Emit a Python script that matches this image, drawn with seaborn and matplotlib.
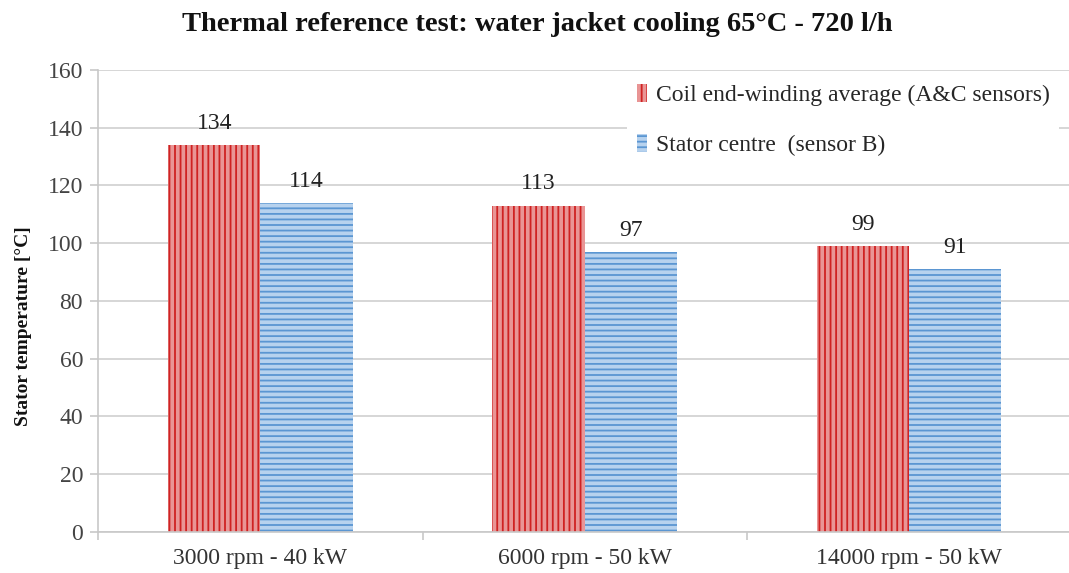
"""
Thermal reference test - bar chart of stator temperatures.
"""

import matplotlib
matplotlib.use("Agg")
import matplotlib.pyplot as plt
import matplotlib.patches as mpatches
import seaborn as sns
import pandas as pd

# Data
operating_points = ["3000 rpm - 40 kW", "6000 rpm - 50 kW", "14000 rpm - 50 kW"]
coil_endwinding = [134, 113, 99]
stator_centre = [114, 97, 91]
series_names = ["Coil end-winding average (A&C sensors)", "Stator centre  (sensor B)"]


def build_frame():
    rows = []
    for op, c, s in zip(operating_points, coil_endwinding, stator_centre):
        rows.append({"op": op, "series": series_names[0], "temp": c})
        rows.append({"op": op, "series": series_names[1], "temp": s})
    return pd.DataFrame(rows)


def plot():
    sns.set_theme(style="white")
    plt.rcParams["font.family"] = ["Liberation Serif", "DejaVu Serif"]
    plt.rcParams["hatch.linewidth"] = 1.3

    df = build_frame()

    fig = plt.figure(figsize=(10.69, 5.73), dpi=100)
    ax = fig.add_axes([0.092, 0.072, 0.91, 0.806])

    face = {series_names[0]: "#e99595", series_names[1]: "#b7d2ee"}
    edge = {series_names[0]: "#cf2222", series_names[1]: "#5b96d2"}
    hatch = {series_names[0]: "|||", series_names[1]: "---"}

    sns.barplot(data=df, x="op", y="temp", hue="series", hue_order=series_names,
                order=operating_points, palette=face, width=0.57, saturation=1,
                ax=ax, legend=False)

    # hatch each bar by series
    for cont, name in zip(ax.containers, series_names):
        for bar in cont:
            bar.set_hatch(hatch[name])
            bar.set_edgecolor(edge[name])
            bar.set_linewidth(0)
        ax.bar_label(cont, labels=[f"{v:.0f}" for v in cont.datavalues],
                     padding=8, fontsize=17, color="#222222")

    ax.set_ylim(0, 160)
    ax.set_yticks(range(0, 161, 20))
    ax.set_xlim(-0.5, 2.5)
    ax.yaxis.grid(True, color="#d0d0d0", linewidth=1.2)
    ax.set_axisbelow(True)

    for side in ["top", "right"]:
        ax.spines[side].set_visible(False)
    for side in ["left", "bottom"]:
        ax.spines[side].set_color("#c8c8c8")
        ax.spines[side].set_linewidth(1.2)

    # tick marks between categories, labels at the centres
    ax.set_xticks([-0.5, 0.5, 1.5, 2.5])
    ax.set_xticklabels([])
    ax.set_xticks([0, 1, 2], minor=True)
    ax.set_xticklabels(operating_points, minor=True, fontsize=17, color="#333333")
    ax.tick_params(axis="x", which="major", length=6, color="#c8c8c8", width=1.2,
                   bottom=True, direction="out")
    ax.tick_params(axis="x", which="minor", length=0, pad=12)
    ax.tick_params(axis="y", length=6, color="#c8c8c8", width=1.2, left=True,
                   labelsize=17, labelcolor="#444444", pad=5)

    ax.set_xlabel("")
    ax.set_ylabel("Stator temperature [°C]", fontsize=14, fontweight="bold",
                  color="#111111")
    ax.yaxis.set_label_coords(-0.068, 0.446)
    fig.text(0.503, 0.958, "Thermal reference test: water jacket cooling 65°C - 720 l/h",
             fontsize=20.5, fontweight="bold", ha="center", va="center", color="#111111")

    handles = [mpatches.Patch(facecolor=face[n], edgecolor=edge[n], hatch=hatch[n],
                              linewidth=0) for n in series_names]
    leg = ax.legend(handles, series_names, loc="upper right",
                    bbox_to_anchor=(0.99, 0.996), fontsize=17, frameon=True,
                    fancybox=False, framealpha=1, edgecolor="white",
                    handlelength=0.45, handleheight=0.8, handletextpad=0.35,
                    labelspacing=1.2, borderpad=0.4, borderaxespad=0.1)
    leg.get_frame().set_linewidth(0)

    fig.savefig("out.png", dpi=100)
    plt.close(fig)


if __name__ == "__main__":
    plot()
